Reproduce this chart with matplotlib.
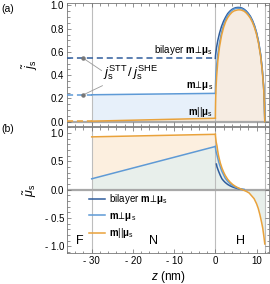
import matplotlib.pyplot as plt
import numpy as np
from matplotlib.ticker import FixedLocator, MultipleLocator

plt.rcParams['font.family'] = ['Liberation Sans', 'DejaVu Sans']
plt.rcParams['mathtext.fontset'] = 'custom'
plt.rcParams['mathtext.rm'] = 'Liberation Sans'
plt.rcParams['mathtext.it'] = 'Liberation Sans:italic'
plt.rcParams['mathtext.bf'] = 'Liberation Sans:bold'

# layer boundaries (nm)
z_F, z_N, z_H = -30, 0, 12
zN = [-30, 0]

# ---- panel (a): normalized spin current ----
ja_perp_N = [0.232, 0.244]
ja_par_N = [0.005, 0.03]
ja_bilayer = 0.545

zH_a = [0, 0.05, 0.15, 0.3, 0.6, 1.0, 1.5, 2.0, 2.5, 3.0, 3.5, 4.0, 4.5, 5.0, 5.5,
        6.0, 6.5, 7.0, 7.5, 8.0, 8.5, 9.0, 9.5, 10.0, 10.5, 11.0, 11.4, 11.7, 11.9, 12.0]
ja_par_H = [0.03, 0.15, 0.28, 0.38, 0.52, 0.64, 0.74, 0.81, 0.86, 0.895, 0.92, 0.94, 0.952, 0.958, 0.962,
            0.962, 0.958, 0.95, 0.935, 0.915, 0.89, 0.855, 0.81, 0.75, 0.67, 0.56, 0.43, 0.30, 0.15, 0.0]
ja_perp_H = [0.244, 0.33, 0.41, 0.48, 0.58, 0.68, 0.77, 0.835, 0.88, 0.915, 0.94, 0.957, 0.968, 0.974, 0.976,
             0.975, 0.97, 0.96, 0.945, 0.925, 0.90, 0.865, 0.82, 0.76, 0.68, 0.57, 0.44, 0.31, 0.16, 0.0]
ja_bil_H = [0.545, 0.57, 0.60, 0.64, 0.70, 0.76, 0.82, 0.865, 0.90, 0.93, 0.95, 0.965, 0.975, 0.981, 0.983,
            0.982, 0.977, 0.967, 0.952, 0.932, 0.907, 0.872, 0.827, 0.767, 0.687, 0.577, 0.447, 0.315, 0.163, 0.0]

# ---- panel (b): normalized spin accumulation ----
mub_perp_N = [0.19, 0.76]
mub_par_N = [0.93, 0.975]

zH_b_par = [0, 0.1, 0.2, 0.4, 0.6, 0.8, 1.2, 1.6, 2.0, 2.4, 3.0, 3.6, 4.2, 4.8, 5.4, 6.0, 6.5,
            7.0, 7.6, 8.2, 8.8, 9.4, 10.0, 10.4, 10.8, 11.2, 11.5, 11.8, 12.0]
mub_par_H = [0.975, 0.90, 0.84, 0.77, 0.67, 0.59, 0.47, 0.38, 0.31, 0.25, 0.18, 0.13, 0.09, 0.06, 0.035, 0.015, 0.0,
             -0.015, -0.035, -0.06, -0.11, -0.16, -0.25, -0.33, -0.44, -0.57, -0.68, -0.84, -0.96]
zH_b_perp = [0, 0.1, 0.2, 0.4, 0.8, 1.2, 1.6, 2.0, 2.4, 3.0, 3.6, 4.2, 4.8, 5.4, 6.0, 6.5, 7.0]
mub_perp_H = [0.76, 0.70, 0.66, 0.61, 0.49, 0.40, 0.32, 0.26, 0.20, 0.145, 0.10, 0.07, 0.045, 0.028, 0.015, 0.005, 0.0]
zH_b_bil = [0.25, 0.4, 0.8, 1.2, 1.6, 2.0, 2.4, 3.0, 3.6, 4.2, 4.8, 5.4, 6.0, 6.5, 7.0]
mub_bil_H = [0.45, 0.40, 0.32, 0.25, 0.19, 0.155, 0.125, 0.09, 0.065, 0.045, 0.03, 0.018, 0.01, 0.004, 0.0]

x_ticks = [-30, -20, -10, 0, 10]
x_labels = ['- 30', '- 20', '- 10', '0', '10']
ya_ticks = [0.0, 0.2, 0.4, 0.6, 0.8, 1.0]
yb_ticks = [-1.0, -0.5, 0.0, 0.5, 1.0]
yb_labels = ['- 1.0', '- 0.5', '0.0', '0.5', '1.0']

c_bil = '#2f5d9c'
c_perp = '#5e9ad6'
c_par = '#e9a23b'
c_ref = '#bdbdbd'

lab_bil = r'bilayer $\mathbf{m}\!\perp\!\mathbf{\mu}_{\mathrm{s}}$'
lab_perp = r'$\mathbf{m}\!\perp\!\mathbf{\mu}_{\mathrm{s}}$'
lab_par = r'$\mathbf{m}||\mathbf{\mu}_{\mathrm{s}}$'

fig = plt.figure(figsize=(2.7, 2.84), dpi=100)
ax1 = fig.add_axes([0.248, 0.557, 0.748, 0.432])
ax2 = fig.add_axes([0.248, 0.109, 0.748, 0.443])

for ax in (ax1, ax2):
    ax.set_xlim(-36, 13)
    for zz in (z_F, z_N, z_H):
        ax.axvline(zz, color=c_ref, lw=0.8, zorder=1)
    ax.xaxis.set_major_locator(FixedLocator(x_ticks))
    ax.xaxis.set_minor_locator(MultipleLocator(2))
    ax.tick_params(which='both', direction='in', top=True, right=True,
                   color='#666666', width=0.5, labelsize=7, pad=2)
    ax.tick_params(which='major', length=3)
    ax.tick_params(which='minor', length=1.8)
    for s in ax.spines.values():
        s.set_color('#777777')
        s.set_linewidth(0.6)

# ---- (a) ----
ax1.set_ylim(-0.035, 1.02)
ax1.axhline(0, color='#a8a8a8', lw=1.6, zorder=1)
ax1.fill_between(zN, 0, ja_perp_N, color='#e7f0fa', lw=0, zorder=0)
ax1.fill_between(zN, 0, ja_par_N, color='#f8ecdc', lw=0, zorder=0)
ax1.fill_between(zH_a, 0, ja_par_H, color='#f6ece2', lw=0, zorder=0)
ax1.plot([-36, 0], [ja_bilayer, ja_bilayer], ls=(0, (4, 2.5)), color=c_bil, lw=1.1, zorder=3)
ax1.plot([-36, -30], [ja_perp_N[0], ja_perp_N[0]], ls=(0, (4, 2.5)), color=c_perp, lw=1.1, zorder=3)
ax1.plot([-36, -30], [ja_par_N[0], ja_par_N[0]], ls=(0, (4, 2.5)), color=c_par, lw=1.1, zorder=3)
ax1.plot(zN, ja_perp_N, color=c_perp, lw=1.1, zorder=3)
ax1.plot(zN, ja_par_N, color=c_par, lw=1.1, zorder=3)
ax1.plot([0, 0], [ja_perp_N[1], ja_perp_H[0]], color=c_perp, lw=1.1, zorder=3)
ax1.plot(zH_a, ja_bil_H, color=c_bil, lw=1.1, zorder=3)
ax1.plot(zH_a, ja_perp_H, color=c_perp, lw=1.1, zorder=4)
ax1.plot(zH_a, ja_par_H, color=c_par, lw=1.1, zorder=5)

ax1.plot([-32, -32], [ja_bilayer, ja_perp_N[0]], 'o', color='#777777', ms=2.2, zorder=6)
ax1.plot([-32, -27.6], [ja_bilayer, 0.44], color='#999999', lw=0.6, zorder=5)
ax1.plot([-32, -27.4], [ja_perp_N[0], 0.31], color='#999999', lw=0.6, zorder=5)
ax1.text(-27.2, 0.42, r'$j_{\mathrm{s}}^{\mathrm{STT}}\,/\,j_{\mathrm{s}}^{\mathrm{SHE}}$',
         fontsize=9.5, ha='left', va='center')
ax1.text(-0.6, 0.615, lab_bil, fontsize=7, ha='right', va='center')
ax1.text(-0.6, 0.315, lab_perp, fontsize=7, ha='right', va='center')
ax1.text(-0.6, 0.08, lab_par, fontsize=7, ha='right', va='center')

ax1.yaxis.set_major_locator(FixedLocator(ya_ticks))
ax1.yaxis.set_minor_locator(MultipleLocator(0.05))
ax1.set_yticklabels(['%.1f' % v for v in ya_ticks])
ax1.set_xticklabels([])
ax1.set_ylabel(r'$\tilde{j}_{\mathrm{s}}$', fontsize=9, labelpad=8)

# ---- (b) ----
ax2.set_ylim(-1.12, 1.1)
ax2.axhline(0, color='#a8a8a8', lw=1.6, zorder=1)
ax2.fill_between(zN, 0, mub_par_N, color='#fcefdf', lw=0, zorder=0)
ax2.fill_between(zN, 0, mub_perp_N, color='#e8efeb', lw=0, zorder=0)
ax2.fill_between(zH_b_par, 0, mub_par_H, color='#e8efeb', lw=0, zorder=0)
ax2.plot(zN, mub_par_N, color=c_par, lw=1.1, zorder=3)
ax2.plot(zN, mub_perp_N, color=c_perp, lw=1.1, zorder=3)
ax2.plot(zH_b_bil, mub_bil_H, color=c_bil, lw=1.1, zorder=3, label=lab_bil)
ax2.plot(zH_b_perp, mub_perp_H, color=c_perp, lw=1.1, zorder=4, label=lab_perp)
ax2.plot(zH_b_par, mub_par_H, color=c_par, lw=1.1, zorder=5, label=lab_par)

ax2.legend(loc='upper left', bbox_to_anchor=(0.09, 0.515), frameon=False, fontsize=7,
           handlelength=1.6, handletextpad=0.5, labelspacing=0.35, borderaxespad=0)

ax2.text(-33, -0.9, 'F', fontsize=9, ha='center', va='center')
ax2.text(-15, -0.9, 'N', fontsize=9, ha='center', va='center')
ax2.text(6, -0.9, 'H', fontsize=9, ha='center', va='center')

ax2.yaxis.set_major_locator(FixedLocator(yb_ticks))
ax2.yaxis.set_minor_locator(MultipleLocator(0.1))
ax2.set_yticklabels(yb_labels)
ax2.set_xticklabels(x_labels)
ax2.set_ylabel(r'$\tilde{\mu}_{\mathrm{s}}$', fontsize=9, labelpad=4)
ax2.set_xlabel(r'$z$ (nm)', fontsize=8.5, labelpad=2)

fig.text(0.005, 0.985, '(a)', fontsize=7.5, ha='left', va='top')
fig.text(0.005, 0.565, '(b)', fontsize=7.5, ha='left', va='top')

fig.savefig('out.png', dpi=100)
